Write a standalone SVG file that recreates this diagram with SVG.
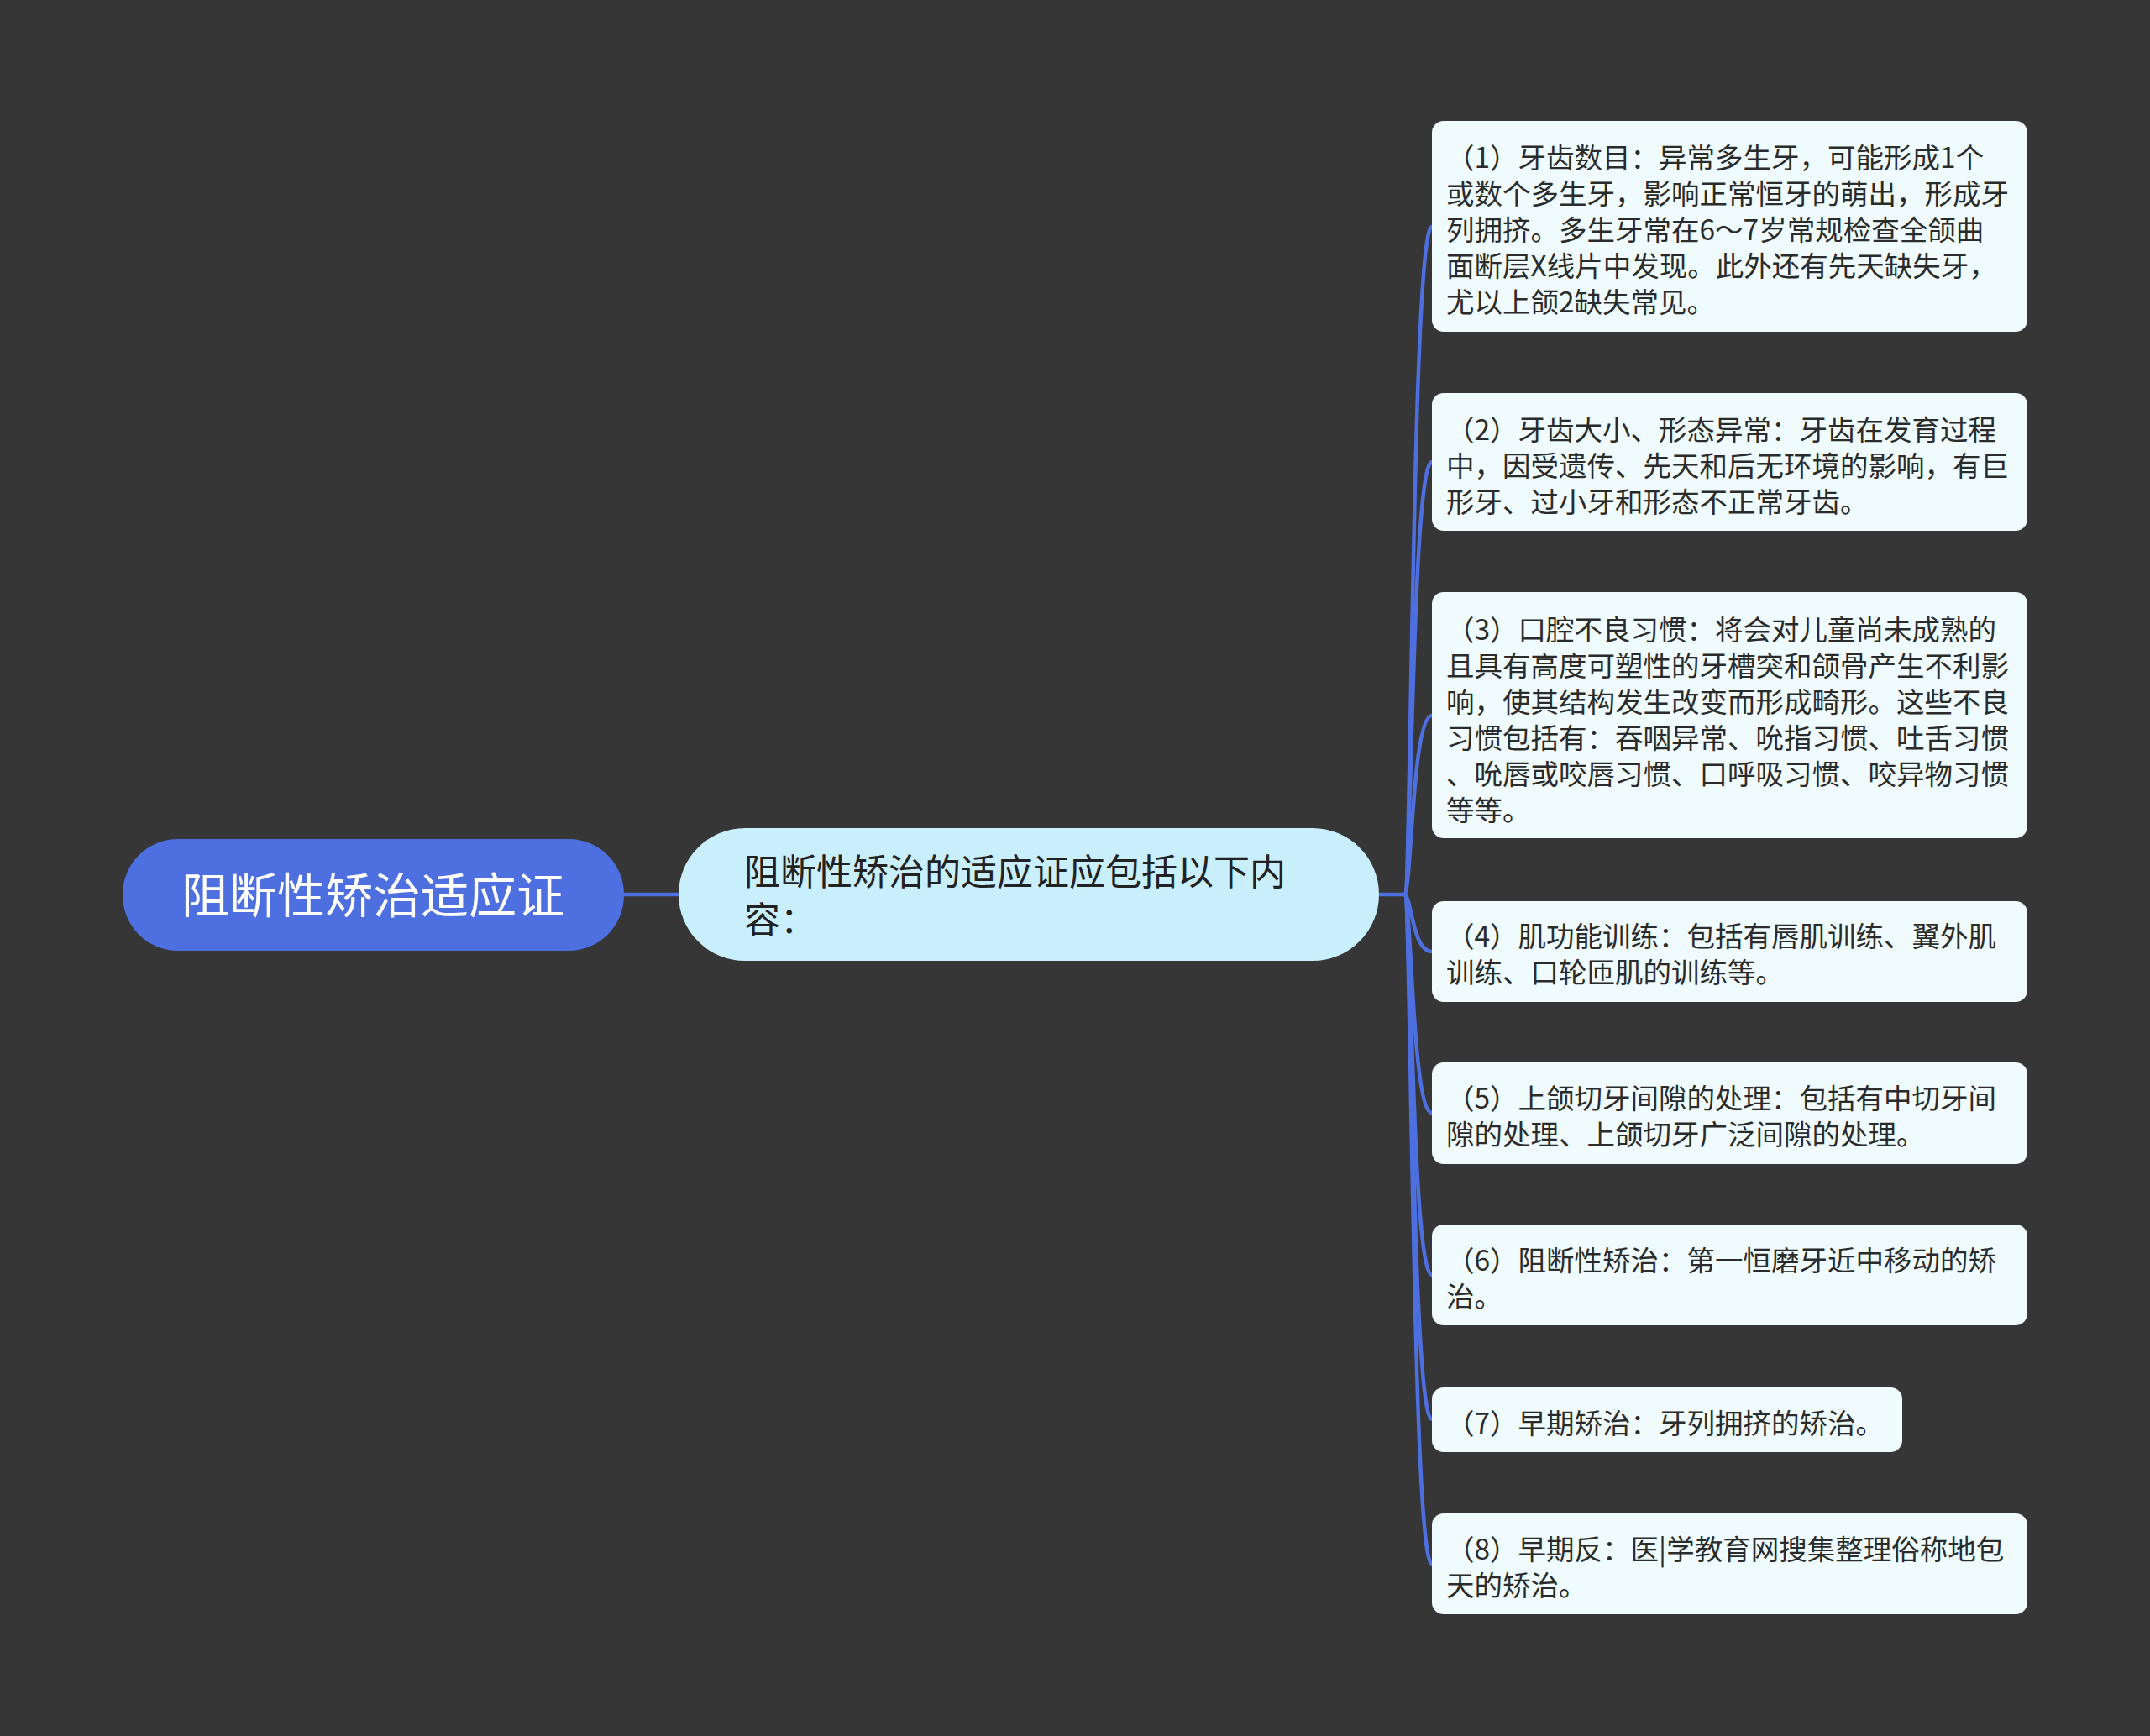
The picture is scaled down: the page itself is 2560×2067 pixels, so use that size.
<svg xmlns="http://www.w3.org/2000/svg" width="2560" height="2067" viewBox="0 0 2560 2067">
<style>
.bg{fill:#363636}
.root{fill:#4e6fe0}
.sub{fill:#c9eefc}
.leaf{fill:#effbfc}
.ct{font-family:"Noto Sans CJK SC","Noto Sans",sans-serif}
.rt{fill:#ffffff;font-size:57px}
.st{fill:#222222;font-size:43px}
.lt{fill:#2b2b2b;font-size:33.5px}
.edge{fill:none;stroke:#4e6fe0;stroke-width:4.5;stroke-linecap:round}
</style>
<rect class="bg" x="0" y="0" width="2560" height="2067"/>
<g id="connectors">
<path class="edge" d="M743 1065 L807 1065"/>
<path class="edge" d="M1642 1065 L1672 1065"/>
<path class="edge" d="M1672 1065 C1681 1065 1681 270 1705 270"/>
<path class="edge" d="M1672 1065 C1681 1065 1681 550 1705 550"/>
<path class="edge" d="M1672 1065 C1681 1065 1681 852 1705 852"/>
<path class="edge" d="M1672 1065 C1681 1065 1681 1133 1705 1133"/>
<path class="edge" d="M1672 1065 C1681 1065 1681 1325 1705 1325"/>
<path class="edge" d="M1672 1065 C1681 1065 1681 1518 1705 1518"/>
<path class="edge" d="M1672 1065 C1681 1065 1681 1690 1705 1690"/>
<path class="edge" d="M1672 1065 C1681 1065 1681 1862 1705 1862"/>
</g>
<g id="root">
<rect class="root" x="146" y="999" width="597" height="133" rx="66"/>
<text class="ct rt" x="444" y="1087" text-anchor="middle">阻断性矫治适应证</text>
</g>
<g id="sub">
<rect class="sub" x="808" y="986" width="834" height="158" rx="79"/>
<text class="ct st" x="886" y="1054"><tspan x="886" y="1054">阻断性矫治的适应证应包括以下内</tspan><tspan x="886" y="1111">容：</tspan></text>
</g>
<g id="leaf1">
<rect class="leaf" x="1705" y="144" width="709" height="251" rx="14"/>
<text class="ct lt" x="1722" y="200"><tspan x="1722" y="200">（1）牙齿数目：异常多生牙，可能形成1个</tspan><tspan x="1722" y="243">或数个多生牙，影响正常恒牙的萌出，形成牙</tspan><tspan x="1722" y="286">列拥挤。多生牙常在6～7岁常规检查全颌曲</tspan><tspan x="1722" y="329">面断层X线片中发现。此外还有先天缺失牙，</tspan><tspan x="1722" y="372">尤以上颌2缺失常见。</tspan></text>
</g>
<g id="leaf2">
<rect class="leaf" x="1705" y="468" width="709" height="164" rx="14"/>
<text class="ct lt" x="1722" y="524"><tspan x="1722" y="524">（2）牙齿大小、形态异常：牙齿在发育过程</tspan><tspan x="1722" y="567">中，因受遗传、先天和后无环境的影响，有巨</tspan><tspan x="1722" y="610">形牙、过小牙和形态不正常牙齿。</tspan></text>
</g>
<g id="leaf3">
<rect class="leaf" x="1705" y="705" width="709" height="293" rx="14"/>
<text class="ct lt" x="1722" y="762"><tspan x="1722" y="762">（3）口腔不良习惯：将会对儿童尚未成熟的</tspan><tspan x="1722" y="805">且具有高度可塑性的牙槽突和颌骨产生不利影</tspan><tspan x="1722" y="848">响，使其结构发生改变而形成畸形。这些不良</tspan><tspan x="1722" y="891">习惯包括有：吞咽异常、吮指习惯、吐舌习惯</tspan><tspan x="1722" y="934">、吮唇或咬唇习惯、口呼吸习惯、咬异物习惯</tspan><tspan x="1722" y="977">等等。</tspan></text>
</g>
<g id="leaf4">
<rect class="leaf" x="1705" y="1073" width="709" height="120" rx="14"/>
<text class="ct lt" x="1722" y="1127"><tspan x="1722" y="1127">（4）肌功能训练：包括有唇肌训练、翼外肌</tspan><tspan x="1722" y="1170">训练、口轮匝肌的训练等。</tspan></text>
</g>
<g id="leaf5">
<rect class="leaf" x="1705" y="1265" width="709" height="121" rx="14"/>
<text class="ct lt" x="1722" y="1320"><tspan x="1722" y="1320">（5）上颌切牙间隙的处理：包括有中切牙间</tspan><tspan x="1722" y="1363">隙的处理、上颌切牙广泛间隙的处理。</tspan></text>
</g>
<g id="leaf6">
<rect class="leaf" x="1705" y="1458" width="709" height="120" rx="14"/>
<text class="ct lt" x="1722" y="1513"><tspan x="1722" y="1513">（6）阻断性矫治：第一恒磨牙近中移动的矫</tspan><tspan x="1722" y="1556">治。</tspan></text>
</g>
<g id="leaf7">
<rect class="leaf" x="1705" y="1652" width="560" height="77" rx="14"/>
<text class="ct lt" x="1722" y="1707">（7）早期矫治：牙列拥挤的矫治。</text>
</g>
<g id="leaf8">
<rect class="leaf" x="1705" y="1802" width="709" height="120" rx="14"/>
<text class="ct lt" x="1722" y="1857"><tspan x="1722" y="1857">（8）早期反：医|学教育网搜集整理俗称地包</tspan><tspan x="1722" y="1900">天的矫治。</tspan></text>
</g>
</svg>
